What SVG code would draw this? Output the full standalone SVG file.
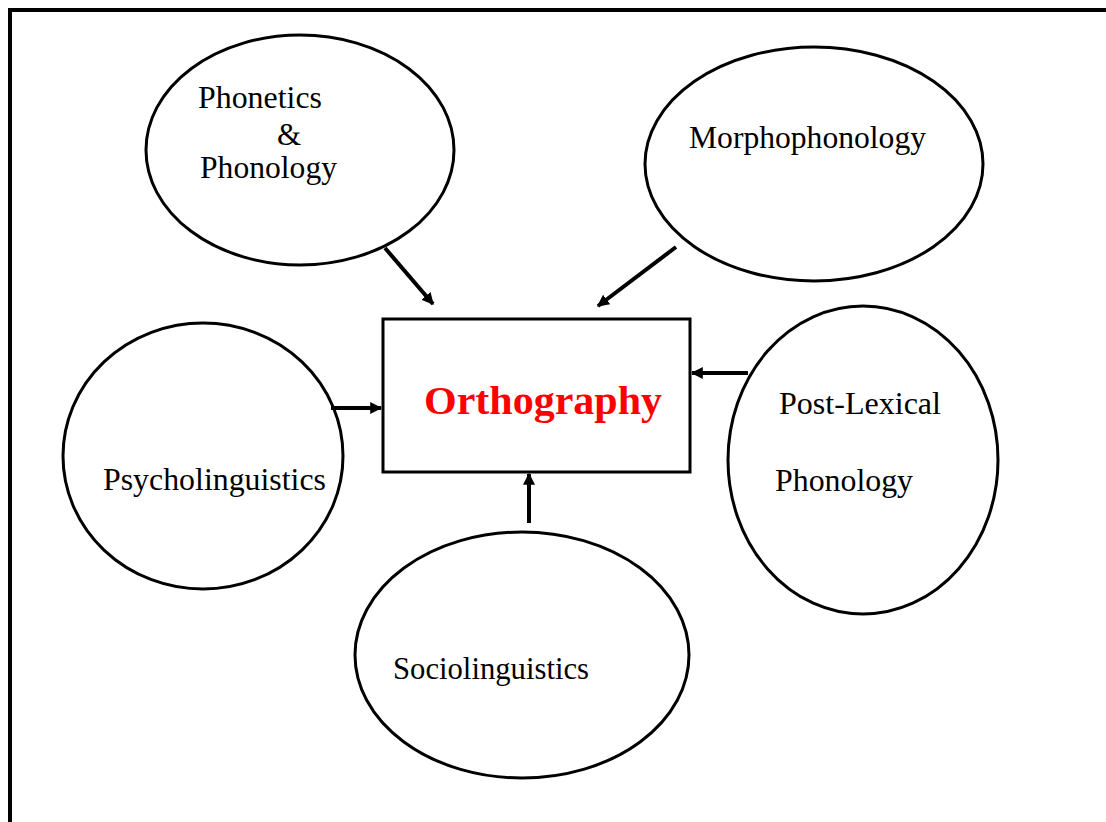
<svg xmlns="http://www.w3.org/2000/svg" width="1106" height="822" viewBox="0 0 1106 822">
<style>
.n{fill:none;stroke:#000;stroke-width:3}
.t{font-family:"Liberation Serif","Times New Roman",serif;font-size:31px;fill:#000}
.c{stroke:#000;stroke-width:4;fill:none}
</style>
<defs>
<marker id="ah" viewBox="0 0 10 10" refX="9" refY="5" markerWidth="3" markerHeight="3" orient="auto" markerUnits="strokeWidth">
<path d="M0,0 L10,5 L0,10 z" fill="#000"/>
</marker>
</defs>
<rect x="0" y="0" width="1106" height="822" fill="#fff"/>
<rect x="10" y="10" width="1110" height="830" fill="none" stroke="#000" stroke-width="4"/>
<g id="orthography">
<rect x="383" y="319" width="307" height="153" class="n"/>
<text x="424" y="414" textLength="238" lengthAdjust="spacingAndGlyphs" style="font-family:'Liberation Serif','Times New Roman',serif;font-size:41px;font-weight:bold;fill:#ff0000">Orthography</text>
</g>
<g id="phonetics">
<ellipse cx="300" cy="150" rx="154" ry="115" class="n"/>
<text class="t" x="198" y="108" textLength="124" lengthAdjust="spacingAndGlyphs">Phonetics</text>
<text class="t" x="277" y="145">&amp;</text>
<text class="t" x="200" y="178" textLength="137" lengthAdjust="spacingAndGlyphs">Phonology</text>
</g>
<g id="morphophonology">
<ellipse cx="814" cy="164" rx="169" ry="117" class="n"/>
<text class="t" x="689" y="148" textLength="237" lengthAdjust="spacingAndGlyphs">Morphophonology</text>
</g>
<g id="psycholinguistics">
<ellipse cx="203" cy="456" rx="140" ry="133" class="n"/>
<text class="t" x="103" y="490" textLength="223" lengthAdjust="spacingAndGlyphs">Psycholinguistics</text>
</g>
<g id="postlexical">
<ellipse cx="863" cy="460" rx="135" ry="154" class="n"/>
<text class="t" x="779" y="414" textLength="162" lengthAdjust="spacingAndGlyphs">Post-Lexical</text>
<text class="t" x="775" y="491" textLength="138" lengthAdjust="spacingAndGlyphs">Phonology</text>
</g>
<g id="sociolinguistics">
<ellipse cx="522" cy="655" rx="167" ry="123" class="n"/>
<text class="t" x="393" y="679" textLength="196" lengthAdjust="spacingAndGlyphs">Sociolinguistics</text>
</g>
<g id="connectors">
<line x1="385" y1="248" x2="433" y2="304" class="c" marker-end="url(#ah)"/>
<line x1="676" y1="247" x2="598" y2="306" class="c" marker-end="url(#ah)"/>
<line x1="331" y1="408" x2="381" y2="408" class="c" marker-end="url(#ah)"/>
<line x1="748" y1="373" x2="692" y2="373" class="c" marker-end="url(#ah)"/>
<line x1="529" y1="523" x2="529" y2="474" class="c" marker-end="url(#ah)"/>
</g>
</svg>
